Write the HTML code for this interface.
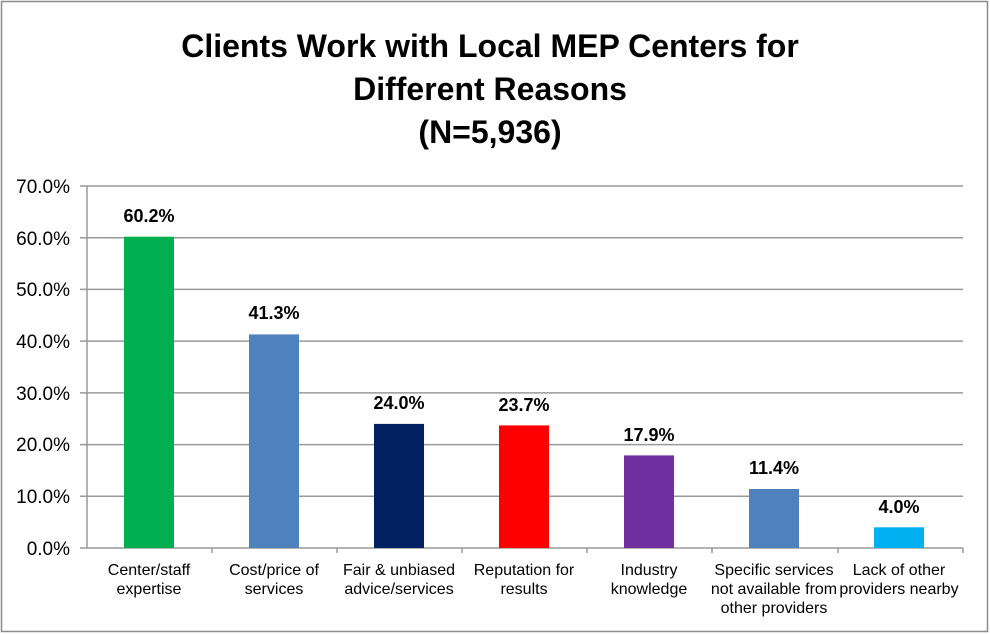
<!DOCTYPE html>
<html><head><style>
body{margin:0;background:#fff;}
svg{display:block;font-family:"Liberation Sans",Arial,sans-serif;}
</style></head><body>
<svg width="990" height="634" viewBox="0 0 990 634">
<rect x="1.5" y="1.5" width="986" height="630" fill="#fff" stroke="#8c8c8c" stroke-width="1.5"/>
<g font-weight="bold" font-size="32" text-anchor="middle" fill="#000">
<text x="490" y="57">Clients Work with Local MEP Centers for</text>
<text x="490" y="100">Different Reasons</text>
<text x="490" y="143">(N=5,936)</text>
</g>
<g stroke="#999" stroke-width="1.5">
<line x1="80" y1="186" x2="963" y2="186"/>
<line x1="80" y1="237.7" x2="963" y2="237.7"/>
<line x1="80" y1="289.4" x2="963" y2="289.4"/>
<line x1="80" y1="341.1" x2="963" y2="341.1"/>
<line x1="80" y1="392.9" x2="963" y2="392.9"/>
<line x1="80" y1="444.6" x2="963" y2="444.6"/>
<line x1="80" y1="496.3" x2="963" y2="496.3"/>
<line x1="80" y1="548" x2="963" y2="548"/>
<line x1="87" y1="186" x2="87" y2="548"/>
<line x1="212" y1="548" x2="212" y2="553"/>
<line x1="337" y1="548" x2="337" y2="553"/>
<line x1="462" y1="548" x2="462" y2="553"/>
<line x1="587" y1="548" x2="587" y2="553"/>
<line x1="712" y1="548" x2="712" y2="553"/>
<line x1="838" y1="548" x2="838" y2="553"/>
<line x1="963" y1="548" x2="963" y2="553"/>
</g>
<g font-size="19" text-anchor="end" fill="#000">
<text x="70" y="193">70.0%</text>
<text x="70" y="245">60.0%</text>
<text x="70" y="296">50.0%</text>
<text x="70" y="348">40.0%</text>
<text x="70" y="400">30.0%</text>
<text x="70" y="451">20.0%</text>
<text x="70" y="503">10.0%</text>
<text x="70" y="555">0.0%</text>
</g>
<rect x="124" y="236.7" width="50" height="311.3" fill="#00b050"/>
<rect x="249" y="334.4" width="50" height="213.6" fill="#4f81bd"/>
<rect x="374" y="423.9" width="50" height="124.1" fill="#002060"/>
<rect x="499" y="425.4" width="50" height="122.6" fill="#ff0000"/>
<rect x="624" y="455.4" width="50" height="92.6" fill="#7030a0"/>
<rect x="749" y="489" width="50" height="59" fill="#4f81bd"/>
<rect x="874" y="527.3" width="50" height="20.7" fill="#00b0f0"/>
<g font-size="18" font-weight="bold" text-anchor="middle" fill="#000">
<text x="149" y="222">60.2%</text>
<text x="274" y="319">41.3%</text>
<text x="399" y="409">24.0%</text>
<text x="524" y="411">23.7%</text>
<text x="649" y="441">17.9%</text>
<text x="774" y="474">11.4%</text>
<text x="899" y="513">4.0%</text>
</g>
<g font-size="16" text-anchor="middle" fill="#000">
<text x="149" y="575">Center/staff</text><text x="149" y="594">expertise</text>
<text x="274" y="575">Cost/price of</text><text x="274" y="594">services</text>
<text x="399" y="575">Fair &amp; unbiased</text><text x="399" y="594">advice/services</text>
<text x="524" y="575">Reputation for</text><text x="524" y="594">results</text>
<text x="649" y="575">Industry</text><text x="649" y="594">knowledge</text>
<text x="774" y="575">Specific services</text><text x="774" y="594">not available from</text><text x="774" y="613">other providers</text>
<text x="899" y="575">Lack of other</text><text x="899" y="594">providers nearby</text>
</g>
</svg>
</body></html>
